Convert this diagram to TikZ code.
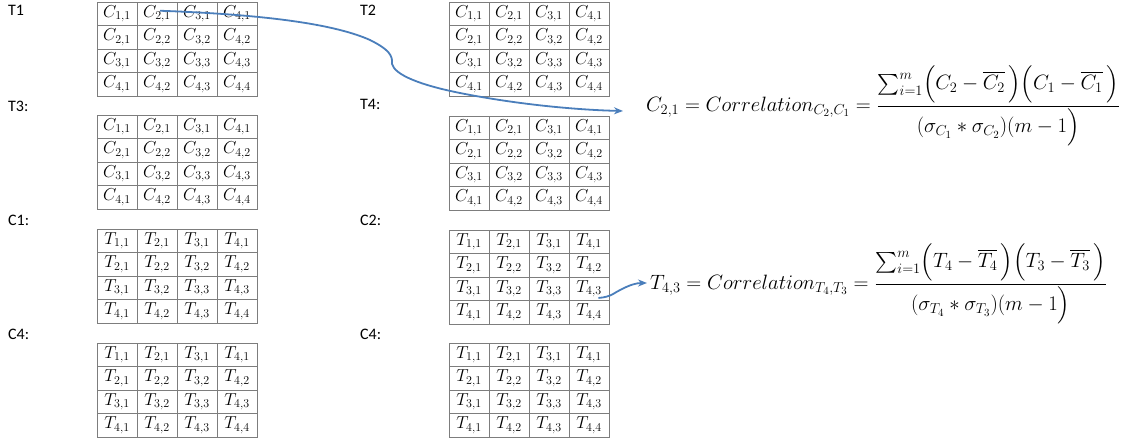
\documentclass[tikz,border=0pt]{standalone}
\usepackage{amsmath}
\usepackage{fontspec}
\setmainfont{Carlito}
\usetikzlibrary{arrows.meta}
\definecolor{arrowblue}{RGB}{74,126,187}
\definecolor{gridgray}{RGB}{125,125,125}
\tikzset{
  cell/.style={draw=gridgray, line width=0.9pt, minimum width=40pt, minimum height=23.5pt, inner sep=0pt, font=\fontsize{17}{20}\selectfont},
  lbl/.style={anchor=west, inner sep=0pt, font=\fontsize{16}{19}\selectfont},
  flow/.style={draw=arrowblue, line width=1.8pt, -{Stealth[length=9pt,width=7pt]}},
  formula/.style={anchor=west, inner sep=0pt, font=\fontsize{21.5}{25}\selectfont}
}
\newcommand\drawgrid[4]{%
  \foreach \ro in {1,...,4}{\foreach \co in {1,...,4}{%
    \pgfmathtruncatemacro\hi{max(\ro,\co)}%
    \pgfmathtruncatemacro\lo{min(\ro,\co)}%
    \node[cell] (#1-\ro-\co) at ({#2+(\co-0.5)*40},{#3+(\ro-0.5)*23.5}) {$#4_{\hi,\lo}$};
  }}}
\begin{document}
\begin{tikzpicture}[x=1pt,y=-1pt]
\useasboundingbox (0,0) rectangle (1132,442);
% labels
\node[lbl] (lT1) at (8,10) {T1};
\node[lbl] (lT3) at (8,106) {T3:};
\node[lbl] (lC1) at (8,220) {C1:};
\node[lbl] (lC4a) at (8,334) {C4:};
\node[lbl] (lT2) at (360,10) {T2};
\node[lbl] (lT4) at (360,104) {T4:};
\node[lbl] (lC2) at (360,220) {C2:};
\node[lbl] (lC4b) at (360,334) {C4:};
% grids
\drawgrid{g1}{97}{2}{C}
\drawgrid{g3}{97}{115}{C}
\drawgrid{g5}{97}{229}{T}
\drawgrid{g7}{97}{343}{T}
\drawgrid{g2}{449}{2}{C}
\drawgrid{g4}{449}{116}{C}
\drawgrid{g6}{449}{230}{T}
\drawgrid{g8}{449}{343}{T}
% formulas
\node[formula] (f1) at (646,106) {$C_{2,1} = Correlation_{C_2,C_1} = \dfrac{\sum\nolimits_{i=1}^{m}\Bigl(C_2-\overline{C_2}\,\Bigr)\Bigl(C_1-\overline{C_1}\,\Bigr)}{\rule{0pt}{20pt}(\sigma_{C_1} * \sigma_{C_2})(m-1\Bigr)}$};
\node[formula] (f2) at (650,284) {$T_{4,3} = Correlation_{T_4,T_3} = \dfrac{\sum\nolimits_{i=1}^{m}\Bigl(T_4-\overline{T_4}\,\Bigr)\Bigl(T_3-\overline{T_3}\,\Bigr)}{\rule{0pt}{20pt}(\sigma_{T_4} * \sigma_{T_3})(m-1\Bigr)}$};
% arrows
\coordinate (a1end) at (623,111);
\coordinate (a2end) at (647,283);
\draw[flow] ([xshift=3pt,yshift=3pt]g1-1-2.center) .. controls (250,14) and (330,22) .. (370,40)
  .. controls (388,49) and (393,55) .. (392,64)
  .. controls (395,75) and (420,85) .. (460,93)
  .. controls (520,105) and (580,110) .. (a1end);
\draw[flow] ([xshift=-11pt,yshift=3pt]g6-3-4.south east) .. controls (612,297) and (615,292) .. (622,289)
  .. controls (630,285) and (636,283) .. (a2end);
\end{tikzpicture}
\end{document}
